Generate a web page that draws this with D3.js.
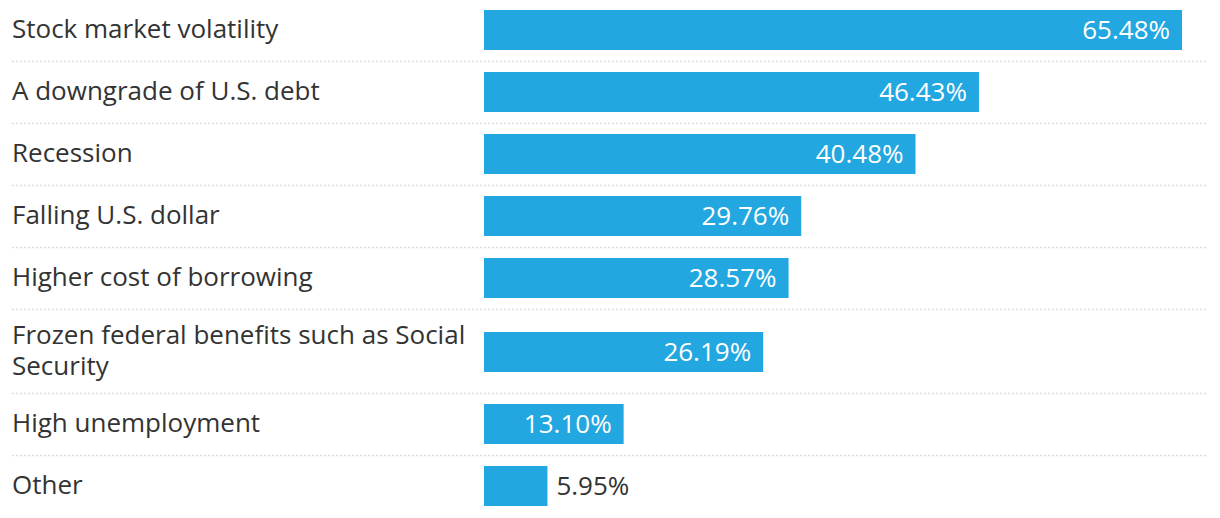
<!DOCTYPE html>
<html><head><meta charset="utf-8">
<script src="https://cdn.jsdelivr.net/npm/d3@7"></script>
<style>
html,body{margin:0;padding:0;background:#fff;}
svg{display:block;font-family:"Open Sans",sans-serif;}
</style></head>
<body><svg id="c" width="1220" height="518"></svg>
<script>
const categories = ["Stock market volatility","A downgrade of U.S. debt","Recession","Falling U.S. dollar","Higher cost of borrowing","Frozen federal benefits such as Social Security","High unemployment","Other"];
const values = [65.48,46.43,40.48,29.76,28.57,26.19,13.10,5.95];
const valueLabels = ["65.48%","46.43%","40.48%","29.76%","28.57%","26.19%","13.10%","5.95%"];

const svg = d3.select("#c");
const labelX = 12, labelW = 462, barX = 484, lineEnd = 1208;
const fontSize = 26, lineH = 31, baseRow = 62, barH = 40;
const x = d3.scaleLinear().domain([0, 100]).range([barX, barX + 1066]);

// wrap labels
const rows = [];
const tmp = svg.append("text").attr("font-size", fontSize);
categories.forEach(c => {
  const words = c.split(" ");
  const lines = [];
  let cur = "";
  words.forEach(w => {
    const test = cur ? cur + " " + w : w;
    tmp.text(test);
    if (tmp.node().getComputedTextLength() > labelW && cur) { lines.push(cur); cur = w; }
    else cur = test;
  });
  lines.push(cur);
  rows.push(lines);
});
tmp.remove();

let rowTop = 0;
const layout = rows.map((lines, i) => {
  const n = lines.length;
  const h = baseRow + (n - 1) * 22;
  const r = {top: rowTop, h, cy: rowTop + 30 + (n - 1) * 12, lines, v: values[i], lab: valueLabels[i]};
  rowTop += h;
  return r;
});

const g = svg.selectAll("g.row").data(layout).join("g").attr("class", "row");

g.append("rect")
  .attr("x", x(0)).attr("y", d => d.cy - barH / 2)
  .attr("width", d => x(d.v) - x(0)).attr("height", barH)
  .attr("fill", "#22a7e0");

g.each(function(d) {
  const t = d3.select(this).append("text")
    .attr("font-size", fontSize).attr("fill", "#333");
  const n = d.lines.length;
  d.lines.forEach((l, j) => {
    t.append("tspan").attr("x", labelX)
      .attr("y", d.cy + (j - (n - 1) / 2) * lineH)
      .attr("dy", "0.3em").text(l);
  });
});

g.append("text")
  .attr("font-size", fontSize)
  .attr("y", d => d.cy).attr("dy", "0.33em")
  .each(function(d) {
    const t = d3.select(this).text(d.lab);
    const w = this.getComputedTextLength();
    const bw = x(d.v) - x(0);
    if (w + 24 < bw) t.attr("x", x(d.v) - 12).attr("text-anchor", "end").attr("fill", "#fff");
    else t.attr("x", x(d.v) + 9).attr("text-anchor", "start").attr("fill", "#333");
  });

g.filter((d, i) => i < layout.length - 1).append("line")
  .attr("x1", labelX).attr("x2", lineEnd)
  .attr("y1", d => d.top + d.h - 0.5).attr("y2", d => d.top + d.h - 0.5)
  .attr("stroke", "#ddd").attr("stroke-width", 1.5).attr("stroke-dasharray", "2,2");
</script></body></html>
